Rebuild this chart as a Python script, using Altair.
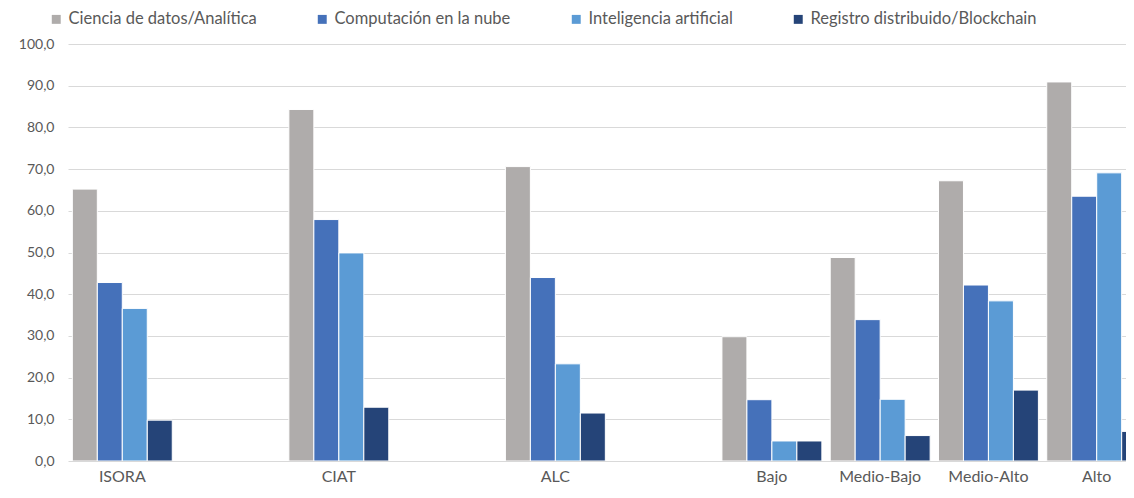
import altair as alt
import pandas as pd

grupos = ["ISORA", "CIAT", "ALC", "Bajo", "Medio-Bajo", "Medio-Alto", "Alto"]
dominio_x = ["ISORA", " ", "CIAT", "  ", "ALC", "   ", "Bajo", "Medio-Bajo", "Medio-Alto", "Alto"]
series = [
    "Ciencia de datos/Analítica",
    "Computación en la nube",
    "Inteligencia artificial",
    "Registro distribuido/Blockchain",
]
ciencia = [65.2, 84.3, 70.6, 29.8, 48.8, 67.2, 90.9]
nube = [42.8, 57.9, 44.0, 14.7, 33.9, 42.2, 63.5]
ia = [36.6, 49.9, 23.3, 4.8, 14.8, 38.4, 69.1]
blockchain = [9.8, 12.9, 11.5, 4.8, 6.1, 17.0, 7.1]
colores = ["#AFACAB", "#4571BA", "#5B9BD5", "#254478"]

valores = [ciencia, nube, ia, blockchain]
filas = []
for s, vals in zip(series, valores):
    for g, v in zip(grupos, vals):
        filas.append({"grupo": g, "serie": s, "valor": v})
df = pd.DataFrame(filas)

FUENTE = "Lato"
GRIS = "#595959"

chart = (
    alt.Chart(df)
    .mark_bar(stroke="white", strokeWidth=1, clip=True)
    .encode(
        x=alt.X(
            "grupo:N",
            scale=alt.Scale(
                domain=dominio_x, range=[0, 1083], paddingInner=0.077, paddingOuter=0.04
            ),
            axis=alt.Axis(
                title=None,
                labelAngle=0,
                domain=False,
                ticks=False,
                labelPadding=7,
                labelFontSize=16,
                labelFont=FUENTE,
                labelColor=GRIS,
            ),
        ),
        xOffset=alt.XOffset("serie:N", scale=alt.Scale(domain=series)),
        y=alt.Y(
            "valor:Q",
            scale=alt.Scale(domain=[0, 100], nice=False),
            axis=alt.Axis(
                title=None,
                values=list(range(0, 101, 10)),
                labelExpr="replace(format(datum.value, '.1f'), '.', ',')",
                domain=False,
                ticks=False,
                labelPadding=14,
                labelFontSize=14,
                labelFont=FUENTE,
                labelColor=GRIS,
                gridColor="#D9D9D9",
                gridWidth=1.2,
            ),
        ),
        color=alt.Color(
            "serie:N",
            scale=alt.Scale(domain=series, range=colores),
            legend=alt.Legend(
                title=None,
                orient="none",
                legendX=-20,
                legendY=-33,
                direction="horizontal",
                columns=4,
                symbolType="square",
                symbolSize=80,
                symbolStrokeWidth=0,
                labelFontSize=16.5,
                labelFont=FUENTE,
                labelColor=GRIS,
                labelLimit=400,
                columnPadding=57,
                labelOffset=4,
            ),
        ),
    )
    .properties(
        width=1058,
        height=417,
        autosize=alt.AutoSizeParams(type="none"),
        padding={"left": 60, "top": 36, "right": 0, "bottom": 25},
    )
    .configure_view(stroke=None)
)

chart.save("out.html", embed_options={"renderer": "svg", "actions": False})
